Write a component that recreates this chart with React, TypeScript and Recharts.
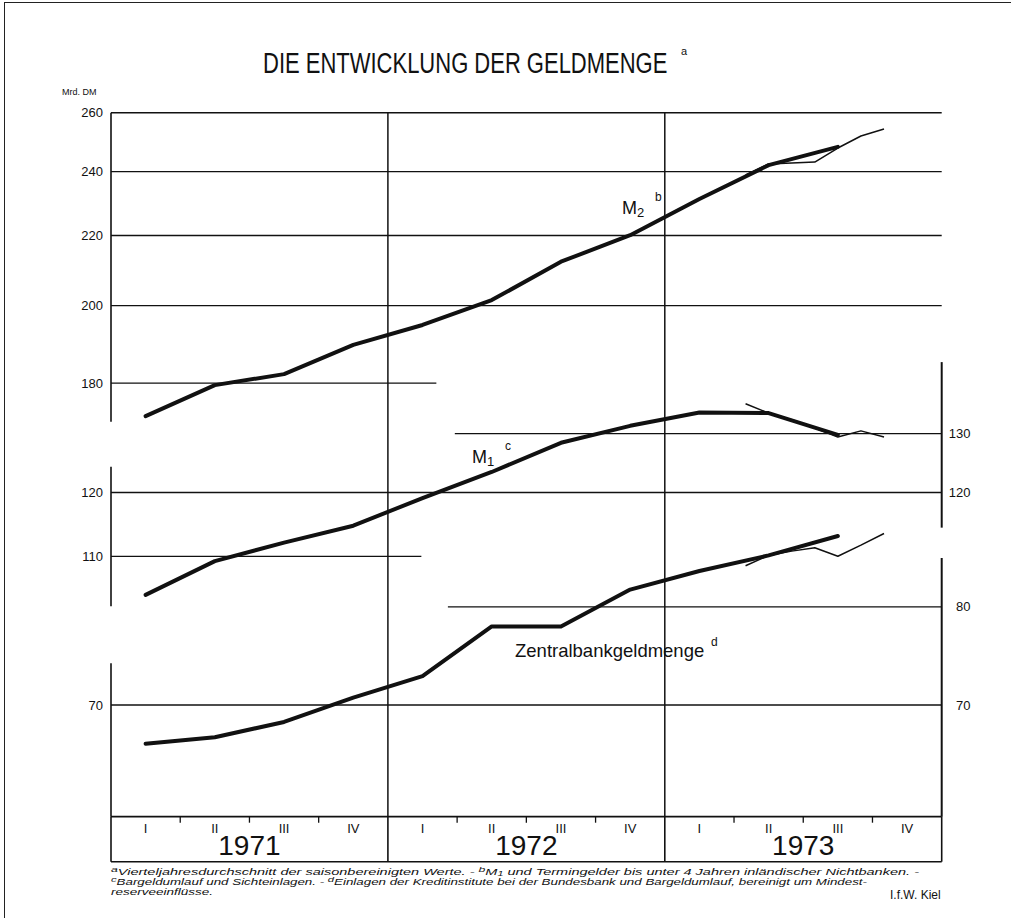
import React from 'react';
import { LineChart, Line, XAxis, YAxis, ReferenceLine } from 'recharts';

const FONT = '"Liberation Sans", Arial, sans-serif';
const INK = '#111';

// categories
const yearLabels = ['1971', '1972', '1973'];
const quarterLabels = ['I', 'II', 'III', 'IV'];
const monthLabels73 = ['Apr', 'Mai', 'Jun', 'Jul', 'Aug', 'Sep', 'Okt'];

// Mrd. DM, quarterly averages I/1971 .. III/1973
const m2Quarterly = [172.1, 179.5, 182.2, 189.6, 194.8, 201.5, 212.3, 220.1, 231.2, 242.1, 248.2];
const m1Quarterly = [104.4, 109.3, 112.1, 114.7, 119.1, 123.4, 128.4, 131.4, 133.8, 133.7, 129.8];
const zbgQuarterly = [66.4, 67.0, 68.4, 70.7, 72.8, 77.9, 77.9, 81.9, 84.0, 85.8, 88.1];

// monthly values Apr .. Okt 1973
const m2Monthly73 = [238.9, 242.5, 242.8, 243.1, 247.8, 251.9, 254.3];
const m1Monthly73 = [135.4, 133.7, 132.5, 131.0, 129.4, 130.5, 129.4];
const zbgMonthly73 = [84.6, 85.8, 86.3, 86.7, 85.7, 87.0, 88.4];

// tick labels
const m2Ticks = [180, 200, 220, 240, 260];
const m1LeftTicks = [110, 120];
const m1RightTicks = [120, 130];
const zbgLeftTicks = [70];
const zbgRightTicks = [70, 80];

// time axis in months since Jan 1971
const quarterMid = (i: number) => i * 3 + 1.5;
const quarterTicks = yearLabels.flatMap((_, y) => quarterLabels.map((__, q) => quarterMid(y * 4 + q)));
const boundTicks = Array.from({ length: 13 }, (_, i) => i * 3);
const yearMids = yearLabels.map((_, i) => i * 12 + 6);
const bottomTicks = [...quarterTicks, ...boundTicks].sort((a, b) => a - b);

const toQ = (arr: number[]) => arr.map((v, i) => ({ t: quarterMid(i), v }));
const toM = (arr: number[]) => arr.map((v, i) => ({ t: 27 + i + 0.5, m: monthLabels73[i], v }));

const m2Q = toQ(m2Quarterly);
const m1Q = toQ(m1Quarterly);
const zbgQ = toQ(zbgQuarterly);
const m2M = toM(m2Monthly73);
const m1M = toM(m1Monthly73);
const zbgM = toM(zbgMonthly73);

const romanOf = (t: number) => quarterLabels[Math.floor(t / 3) % 4];
const yearOf = (t: number) => yearLabels[Math.floor(t / 12)];

const LeftTick = (props: any) => {
  const { y, payload } = props;
  return (
    <text x={103} y={y} dy="0.35em" textAnchor="end" fontSize={13} fill={INK} fontFamily={FONT}>
      {payload.value}
    </text>
  );
};

const RightTick = (props: any) => {
  const { y, payload } = props;
  return (
    <text x={970.5} y={y} dy="0.35em" textAnchor="end" fontSize={13} fill={INK} fontFamily={FONT}>
      {payload.value}
    </text>
  );
};

// bottom band: quarter numerals, quarter ticks, year dividers and year labels
const BottomTick = (props: any) => {
  const { x, y, payload } = props;
  const t = payload.value as number;
  if (t % 12 === 0) {
    return <line x1={x} x2={x} y1={y} y2={y + 45} stroke={INK} strokeWidth={1.6} />;
  }
  if (t % 3 === 0) {
    return (
      <g>
        <line x1={x} x2={x} y1={y} y2={y + 6} stroke={INK} strokeWidth={1.3} />
        {yearMids.includes(t) && (
          <text x={x} y={y + 38} textAnchor="middle" fontSize={28} fill={INK} fontFamily={FONT}>
            {yearOf(t)}
          </text>
        )}
      </g>
    );
  }
  return (
    <text x={x} y={y + 16} textAnchor="middle" fontSize={13} fill={INK} fontFamily={FONT}>
      {romanOf(t)}
    </text>
  );
};

const seg = (axis: string, y: number, x1: number, x2: number, key: string, w = 1.3) => (
  <ReferenceLine
    key={key}
    yAxisId={axis}
    segment={[{ x: x1, y }, { x: x2, y }]}
    stroke={INK}
    strokeWidth={w}
    ifOverflow="visible"
  />
);

const vseg = (axis: string, x: number, y1: number, y2: number, key: string, w = 1.6) => (
  <ReferenceLine
    key={key}
    yAxisId={axis}
    segment={[{ x, y: y1 }, { x, y: y2 }]}
    stroke={INK}
    strokeWidth={w}
    ifOverflow="visible"
  />
);

export default function App() {
  const leftAxisProps = {
    width: 1,
    axisLine: false,
    tickLine: false,
    tickSize: 0,
    tickMargin: 8,
    interval: 0 as const,
    tick: <LeftTick />,
    type: 'number' as const,
    scale: 'log' as const,
    allowDataOverflow: true,
  };
  const rightAxisProps = {
    ...leftAxisProps,
    orientation: 'right' as const,
    tick: <RightTick />,
  };
  const thick = { stroke: INK, strokeWidth: 4, dot: false, isAnimationActive: false, strokeLinejoin: 'round' as const, strokeLinecap: 'round' as const };
  const thin = { stroke: INK, strokeWidth: 1.5, dot: false, isAnimationActive: false, strokeLinejoin: 'round' as const };

  return (
    <div style={{ position: 'absolute', left: 0, top: 0, width: 1014, height: 919, background: '#fff' }}>
      <div style={{ position: 'absolute', left: 4, top: 2, width: 1006, height: 915, borderTop: '1.5px solid #222', borderLeft: '1.5px solid #222' }} />
      <LineChart width={1014} height={919} margin={{ top: 112.7, right: 70.3, bottom: 101.3, left: 108 }}>
        <XAxis
          type="number"
          dataKey="t"
          domain={[0, 36]}
          allowDataOverflow
          ticks={bottomTicks}
          height={1}
          tickLine={false}
          tickSize={0}
          tickMargin={0}
          axisLine={{ stroke: INK, strokeWidth: 1.8 }}
          tick={<BottomTick />}
          interval={0}
        />

        <YAxis yAxisId="m2" domain={[99.8, 260]} ticks={m2Ticks} {...leftAxisProps} />
        <YAxis yAxisId="m1" domain={[77.2, 201.2]} ticks={m1LeftTicks} {...leftAxisProps} />
        <YAxis yAxisId="zbg" domain={[60.13, 156.7]} ticks={zbgLeftTicks} {...leftAxisProps} />
        <YAxis yAxisId="m1r" domain={[77.2, 201.2]} ticks={m1RightTicks} {...rightAxisProps} />
        <YAxis yAxisId="zbgr" domain={[60.13, 156.7]} ticks={zbgRightTicks} {...rightAxisProps} />

        {/* grid pieces */}
        {seg('m2', 260, 0, 36, 'g260', 1.5)}
        {seg('m2', 240, 0, 36, 'g240')}
        {seg('m2', 220, 0, 36, 'g220')}
        {seg('m2', 200, 0, 36, 'g200')}
        {seg('m2', 180, 0, 14.1, 'g180')}
        {seg('m1', 130, 14.9, 36, 'g130')}
        {seg('m1', 120, 0, 36, 'g120')}
        {seg('m1', 110, 0, 13.45, 'g110')}
        {seg('zbg', 80, 14.6, 36, 'g80')}
        {seg('zbg', 70, 0, 36, 'g70')}
        {seg('zbg', 56.56, 0, 36, 'gband', 1.6)}

        {/* broken axis pieces */}
        {vseg('m2', 0, 170.8, 260, 'l-m2')}
        {vseg('m1', 0, 102.8, 124.3, 'l-m1')}
        {vseg('zbg', 0, 60.13, 74.1, 'l-zbg')}
        {vseg('m1', 36, 114.4, 143.3, 'r-m1', 2)}
        {vseg('zbg', 36, 60.13, 85.5, 'r-zbg', 2)}

        <ReferenceLine yAxisId="m2" x={12} stroke={INK} strokeWidth={1.5} />
        <ReferenceLine yAxisId="m2" x={24} stroke={INK} strokeWidth={1.5} />

        <Line yAxisId="m2" data={m2Q} dataKey="v" name="M2" {...thick} />
        <Line yAxisId="m2" data={m2M} dataKey="v" name="M2 monatlich" {...thin} />
        <Line yAxisId="m1" data={m1Q} dataKey="v" name="M1" {...thick} />
        <Line yAxisId="m1" data={m1M} dataKey="v" name="M1 monatlich" {...thin} />
        <Line yAxisId="zbg" data={zbgQ} dataKey="v" name="Zentralbankgeldmenge" {...thick} />
        <Line yAxisId="zbg" data={zbgM} dataKey="v" name="Zentralbankgeldmenge monatlich" {...thin} />
      </LineChart>

      <svg width={1014} height={919} style={{ position: 'absolute', left: 0, top: 0, pointerEvents: 'none' }} fontFamily={FONT} fill={INK}>
        <text transform="translate(263 73) scale(1 1.3)" fontSize={22}>DIE ENTWICKLUNG DER GELDMENGE</text>
        <text x={681} y={55} fontSize={11}>a</text>
        <text x={62} y={95} fontSize={9}>Mrd. DM</text>

        <text x={622} y={214} fontSize={18}>M<tspan fontSize={13} dy={3}>2</tspan></text>
        <text x={655} y={201} fontSize={12}>b</text>
        <text x={472} y={463} fontSize={18}>M<tspan fontSize={13} dy={3}>1</tspan></text>
        <text x={505} y={450} fontSize={12}>c</text>
        <text x={515} y={657} fontSize={18.5}>Zentralbankgeldmenge</text>
        <text x={711} y={646} fontSize={12}>d</text>

        <g fontSize={9.5} fontStyle="italic">
          <text x={111} y={875} textLength={808} lengthAdjust="spacingAndGlyphs">
            <tspan fontSize={8} dy={-3}>a</tspan><tspan dy={3}>Vierteljahresdurchschnitt der saisonbereinigten Werte. - </tspan>
            <tspan fontSize={8} dy={-3}>b</tspan><tspan dy={3}>M</tspan><tspan fontSize={7} dy={1}>1</tspan>
            <tspan dy={-1}> und Termingelder bis unter 4 Jahren inländischer Nichtbanken. -</tspan>
          </text>
          <text x={111} y={885} textLength={756} lengthAdjust="spacingAndGlyphs">
            <tspan fontSize={8} dy={-3}>c</tspan><tspan dy={3}>Bargeldumlauf und Sichteinlagen. - </tspan>
            <tspan fontSize={8} dy={-3}>d</tspan><tspan dy={3}>Einlagen der Kreditinstitute bei der Bundesbank und Bargeldumlauf, bereinigt um Mindest-</tspan>
          </text>
          <text x={111} y={895} textLength={102} lengthAdjust="spacingAndGlyphs">reserveeinflüsse.</text>
        </g>
        <text x={890} y={899} fontSize={12}>I.f.W. Kiel</text>
      </svg>
    </div>
  );
}
